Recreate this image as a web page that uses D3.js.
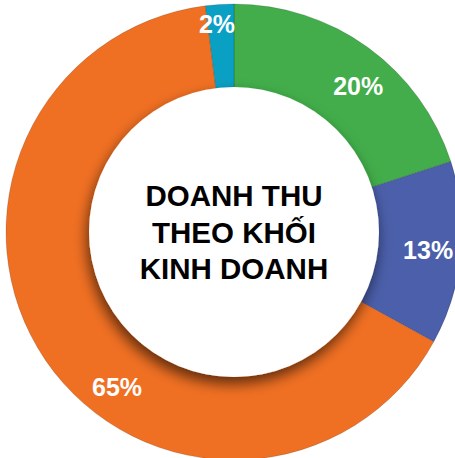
<!DOCTYPE html>
<html>
<head>
<meta charset="utf-8">
<script src="https://cdn.jsdelivr.net/npm/d3@7"></script>
<style>
  html, body { margin: 0; padding: 0; background: #fff; overflow: hidden; }
  svg { display: block; }
</style>
</head>
<body>
<svg id="chart" width="455" height="458"></svg>
<script>
// Data
var segments = ["Khối 1", "Khối 2", "Khối 3", "Khối 4"];
var shares   = [20, 13, 65, 2];
var colors   = ["#42ad4a", "#4b5faa", "#f07023", "#0aa0c4"];
var titleLines = ["DOANH THU", "THEO KHỐI", "KINH DOANH"];

// Where each label sits: fraction along its slice, radius
var labelSpots = [[0.56, 192], [0.5, 195], [0.42, 194], [0.35, 209]];

var CX = 234, CY = 232;
var OUTER = 228, INNER = 145;

var svg = d3.select("#chart");

// ── Shadow of the centre disc ─────────────────────────────────────
var defs = svg.append("defs");
var f = defs.append("filter")
  .attr("id", "disc-shadow")
  .attr("x", "-30%").attr("y", "-30%")
  .attr("width", "160%").attr("height", "160%");
f.append("feDropShadow")
  .attr("dx", -2).attr("dy", 7)
  .attr("stdDeviation", 7)
  .attr("flood-color", "#000")
  .attr("flood-opacity", 0.6);

var g = svg.append("g").attr("transform", "translate(" + CX + "," + CY + ")");

var pie = d3.pie().sort(null).value(function (d) { return d; });
var arcs = pie(shares);

var arc = d3.arc().innerRadius(INNER - 10).outerRadius(OUTER);

g.selectAll(".slice")
  .data(arcs)
  .enter()
  .append("path")
  .attr("class", "slice")
  .attr("d", arc)
  .attr("fill", function (d, i) { return colors[i]; })
  .attr("stroke", "rgba(0,0,0,0.25)")
  .attr("stroke-width", 0.6);

// ── Centre disc ───────────────────────────────────────────────────
g.append("circle")
  .attr("r", INNER)
  .attr("fill", "#fff")
  .attr("filter", "url(#disc-shadow)");

// ── Percentage labels ─────────────────────────────────────────────
g.selectAll(".pct")
  .data(arcs)
  .enter()
  .append("text")
  .attr("class", "pct")
  .attr("transform", function (d, i) {
    var spot = labelSpots[i];
    var a = d.startAngle + (d.endAngle - d.startAngle) * spot[0];
    return "translate(" + (Math.sin(a) * spot[1]) + "," + (-Math.cos(a) * spot[1]) + ")";
  })
  .attr("text-anchor", "middle")
  .attr("dy", "0.36em")
  .attr("fill", "#fff")
  .style("font-family", "'Liberation Sans', Arial, sans-serif")
  .style("font-weight", "bold")
  .style("font-size", "25px")
  .text(function (d) { return d.data + "%"; });

// ── Title ─────────────────────────────────────────────────────────
g.selectAll(".title")
  .data(titleLines)
  .enter()
  .append("text")
  .attr("class", "title")
  .attr("x", 0)
  .attr("y", function (d, i) { return (i - 1) * 36.5; })
  .attr("dy", "0.36em")
  .attr("text-anchor", "middle")
  .attr("fill", "#000")
  .style("font-family", "'Liberation Sans', Arial, sans-serif")
  .style("font-weight", "bold")
  .style("font-size", "29.5px")
  .text(function (d) { return d; });
</script>
</body>
</html>
